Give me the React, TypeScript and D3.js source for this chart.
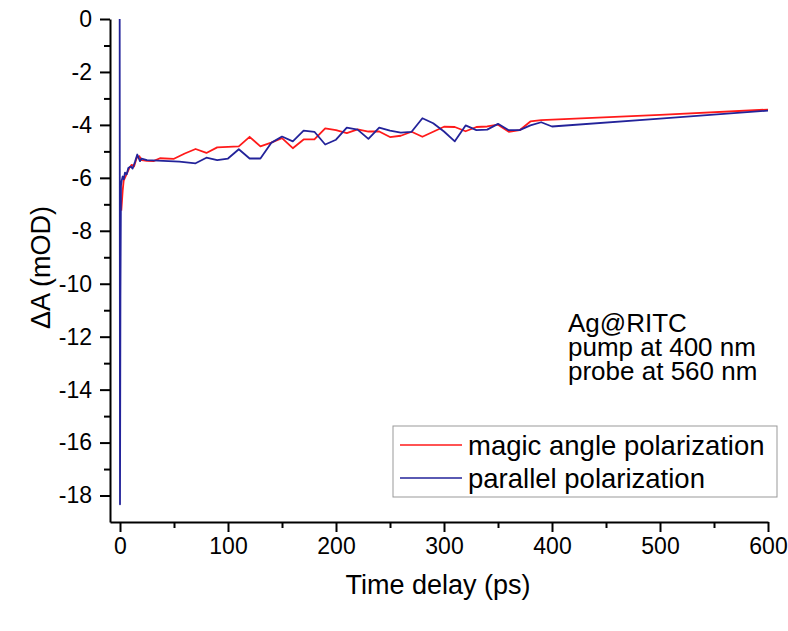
import React, { useEffect, useRef } from 'react';
import * as d3 from 'd3';

// time delay (ps) and ΔA (mOD)
const magicTime = [1.2, 2.5, 3.4, 6.2, 8.6, 10.8, 13, 15.4, 17.9, 20, 25, 31, 37, 50, 60, 70, 80, 90, 100, 110, 120, 130, 140, 150, 160, 170, 180, 190, 200, 210, 220, 230, 240, 250, 260, 270, 280, 290, 300, 310, 320, 330, 340, 350, 360, 370, 380, 390, 500, 600];
const magicValue = [-7.24, -6.47, -6.11, -5.85, -5.63, -5.51, -5.57, -5.25, -5.18, -5.33, -5.36, -5.37, -5.26, -5.28, -5.08, -4.91, -5.06, -4.85, -4.83, -4.81, -4.45, -4.81, -4.67, -4.5, -4.88, -4.55, -4.55, -4.13, -4.2, -4.31, -4.17, -4.25, -4.25, -4.46, -4.41, -4.26, -4.45, -4.26, -4.07, -4.08, -4.24, -4.08, -4.06, -3.99, -4.26, -4.2, -3.87, -3.82, -3.62, -3.42];

const parallelTime = [-0.3, 0, 0.4, 0.9, 1.6, 2.5, 3.5, 4.6, 6.2, 7.7, 9.9, 11.7, 13.9, 16, 18.5, 20, 25, 30, 40, 55, 70, 80, 90, 100, 110, 120, 130, 140, 150, 160, 170, 180, 190, 200, 210, 220, 230, 240, 250, 260, 270, 280, 290, 300, 310, 320, 330, 340, 350, 360, 370, 380, 390, 400, 500, 600];
const parallelValue = [0, -18.33, -10.45, -6.3, -6.1, -5.95, -6.05, -5.8, -5.87, -5.63, -5.57, -5.65, -5.39, -5.12, -5.37, -5.27, -5.33, -5.34, -5.36, -5.39, -5.45, -5.24, -5.33, -5.27, -4.92, -5.27, -5.27, -4.68, -4.44, -4.62, -4.22, -4.26, -4.74, -4.56, -4.1, -4.18, -4.53, -4.1, -4.22, -4.29, -4.26, -3.75, -3.94, -4.25, -4.62, -4.02, -4.2, -4.18, -3.96, -4.2, -4.2, -4.02, -3.9, -4.06, -3.76, -3.46];

const xTicks = [0, 100, 200, 300, 400, 500, 600];
const xMinorTicks = [50, 150, 250, 350, 450, 550];
const yTicks = [0, -2, -4, -6, -8, -10, -12, -14, -16, -18];
const yMinorTicks = [-1, -3, -5, -7, -9, -11, -13, -15, -17];

const seriesNames = ['magic angle polarization', 'parallel polarization'];
const seriesColors = ['#ff1a1a', '#23239a'];
const noteLines = ['Ag@RITC', 'pump at 400 nm', 'probe at 560 nm'];

const FONT = '"Liberation Sans", Arial, sans-serif';

export default function App() {
  const svgRef = useRef<SVGSVGElement | null>(null);

  useEffect(() => {
    if (!svgRef.current) return;
    const svg = d3.select(svgRef.current);
    svg.selectAll('*').remove();

    const x = d3.scaleLinear().domain([-9.26, 600]).range([110, 768]);
    const y = d3.scaleLinear().domain([-19, 0]).range([522, 19]);

    // minor ticks first, no labels
    svg.append('g')
      .attr('transform', `translate(0, ${y(-19)})`)
      .call(d3.axisBottom(x).tickValues(xMinorTicks).tickSize(6).tickFormat(() => ''))
      .call(g => g.select('.domain').remove())
      .selectAll('line').attr('stroke-width', 2);

    svg.append('g')
      .attr('transform', `translate(${x(-9.26)}, 0)`)
      .call(d3.axisLeft(y).tickValues(yMinorTicks).tickSize(6).tickFormat(() => ''))
      .call(g => g.select('.domain').remove())
      .selectAll('line').attr('stroke-width', 2);

    const xAxis = svg.append('g')
      .attr('transform', `translate(0, ${y(-19)})`)
      .call(d3.axisBottom(x).tickValues(xTicks).tickSize(10).tickSizeOuter(0).tickPadding(6)
        .tickFormat(d => String(d)));
    xAxis.select('.domain').attr('stroke-width', 2);
    xAxis.selectAll('line').attr('stroke-width', 2);
    xAxis.selectAll('text').attr('font-size', 23).attr('font-family', FONT).attr('fill', '#000');

    const yAxis = svg.append('g')
      .attr('transform', `translate(${x(-9.26)}, 0)`)
      .call(d3.axisLeft(y).tickValues(yTicks).tickSize(10).tickSizeOuter(0).tickPadding(8)
        .tickFormat(d => String(d)));
    yAxis.select('.domain').attr('stroke-width', 2);
    yAxis.selectAll('line').attr('stroke-width', 2);
    yAxis.selectAll('text').attr('font-size', 23).attr('font-family', FONT).attr('fill', '#000');

    const line = d3.line<[number, number]>().x(d => x(d[0])).y(d => y(d[1]));

    const magic = magicTime.map((t, i) => [t, magicValue[i]] as [number, number]);
    const parallel = parallelTime.map((t, i) => [t, parallelValue[i]] as [number, number]);

    svg.append('path').datum(magic)
      .attr('d', line).attr('fill', 'none')
      .attr('stroke', seriesColors[0]).attr('stroke-width', 1.8).attr('stroke-linejoin', 'round');
    svg.append('path').datum(parallel)
      .attr('d', line).attr('fill', 'none')
      .attr('stroke', seriesColors[1]).attr('stroke-width', 1.8).attr('stroke-linejoin', 'round');

    // axis titles
    svg.append('text')
      .attr('x', 438).attr('y', 594)
      .attr('text-anchor', 'middle')
      .attr('font-size', 27).attr('font-family', FONT)
      .text('Time delay (ps)');

    svg.append('text')
      .attr('transform', `translate(50, ${(y(0) + y(-19)) / 2 - 3}) rotate(-90)`)
      .attr('text-anchor', 'middle')
      .attr('font-size', 27).attr('font-family', FONT)
      .text('ΔA (mOD)');

    // note
    svg.append('g').selectAll('text')
      .data(noteLines).enter().append('text')
      .attr('x', 568)
      .attr('y', (d, i) => 332 + i * 24)
      .attr('font-size', 26).attr('font-family', FONT)
      .text(d => d);

    // legend
    const legend = svg.append('g');
    legend.append('rect')
      .attr('x', 393).attr('y', 426).attr('width', 384).attr('height', 71)
      .attr('fill', '#fff').attr('stroke', '#999').attr('stroke-width', 1);
    seriesNames.forEach((name, i) => {
      const ly = 445 + i * 33;
      legend.append('line')
        .attr('x1', 400).attr('x2', 462).attr('y1', ly).attr('y2', ly)
        .attr('stroke', seriesColors[i]).attr('stroke-width', 1.6);
      legend.append('text')
        .attr('x', 468).attr('y', ly + 10)
        .attr('font-size', 27.5).attr('font-family', FONT)
        .text(name);
    });
  }, []);

  return (
    <svg ref={svgRef} width={788} height={631}
      style={{ position: 'absolute', left: 0, top: 0, background: '#fff', display: 'block' }} />
  );
}
